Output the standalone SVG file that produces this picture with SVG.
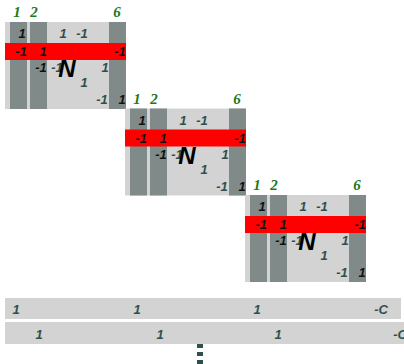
<svg xmlns="http://www.w3.org/2000/svg" width="404" height="364" viewBox="0 0 404 364">
<style>
.bg{fill:#d3d3d3}
.col{fill:#808b89}
.red{fill:#ff0000}
.t{font-family:"Liberation Sans",Arial,sans-serif;font-size:13px;font-weight:bold;font-style:italic;text-anchor:middle}
.k{fill:#111}
.s{fill:#2f4f4f}
.g{font-family:"Liberation Serif","Times New Roman",serif;font-size:15px;font-weight:bold;font-style:italic;fill:#1a7a1a;text-anchor:middle}
.n{font-family:"Liberation Sans",Arial,sans-serif;font-size:24px;font-weight:bold;font-style:italic;fill:#000;text-anchor:middle}
.dot{fill:#2f4f4f}
</style>
<defs>
<g id="blk">
<rect class="bg" x="5" y="22" width="121" height="87"/>
<rect class="col" x="10" y="22" width="17" height="87"/>
<rect class="col" x="30" y="22" width="17" height="87"/>
<rect class="col" x="109" y="22" width="17" height="87"/>
<rect class="red" x="5" y="43" width="121" height="17"/>
<text class="g" x="17" y="17">1</text>
<text class="g" x="34" y="17">2</text>
<text class="g" x="117" y="17">6</text>
<text class="t k" x="22" y="38">1</text>
<text class="t s" x="63" y="38">1</text>
<text class="t s" x="82" y="38">-1</text>
<text class="t k" x="21" y="56">-1</text>
<text class="t k" x="43" y="56">1</text>
<text class="t k" x="120" y="56">-1</text>
<text class="t k" x="41" y="72">-1</text>
<text class="t s" x="57" y="72">-1</text>
<text class="n" x="67" y="77">N</text>
<text class="t s" x="105" y="72">1</text>
<text class="t s" x="84" y="87">1</text>
<text class="t s" x="102" y="104">-1</text>
<text class="t k" x="122" y="104">1</text>
</g>
</defs>
<g id="block1"><use href="#blk"/></g>
<g id="block2"><use href="#blk" transform="translate(120,86.5)"/></g>
<g id="block3"><use href="#blk" transform="translate(240,173)"/></g>
<g id="row1">
<rect class="bg" x="5" y="298" width="396" height="21"/>
<text class="t s" x="16" y="314">1</text>
<text class="t s" x="137" y="314">1</text>
<text class="t s" x="257" y="314">1</text>
<text class="t s" x="381" y="314">-C</text>
</g>
<g id="row2">
<rect class="bg" x="5" y="322" width="399" height="22"/>
<text class="t s" x="39" y="339">1</text>
<text class="t s" x="160" y="339">1</text>
<text class="t s" x="278" y="339">1</text>
<text class="t s" x="400" y="339">-C</text>
</g>
<g id="dots">
<rect class="dot" x="197" y="344" width="6" height="4"/>
<rect class="dot" x="197" y="352" width="6" height="4"/>
<rect class="dot" x="197" y="360" width="6" height="4"/>
</g>
</svg>
